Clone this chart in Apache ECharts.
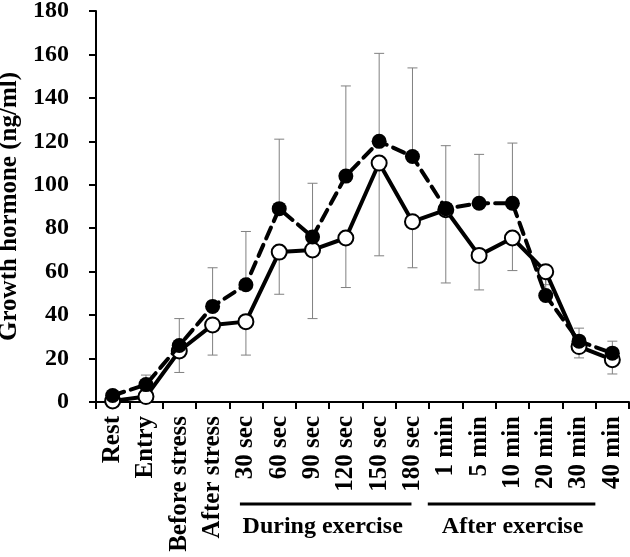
<!DOCTYPE html>
<html>
<head>
<meta charset="utf-8">
<script src="https://cdn.jsdelivr.net/npm/echarts@6/dist/echarts.min.js"></script>
<style>
  html, body { margin: 0; padding: 0; background: #fff; }
  #chart { width: 630px; height: 557px; }
</style>
</head>
<body>
<div id="chart"></div>
<script>
// ---- data ----
const categories = ['Rest', 'Entry', 'Before stress', 'After stress', '30 sec', '60 sec', '90 sec', '120 sec', '150 sec', '180 sec', '1 min', '5 min', '10 min', '20 min', '30 min', '40 min'];
const filledMean  = [3, 8, 26, 44, 54, 89, 76, 104, 120, 113, 89, 91.5, 91.5, 49, 28, 22.5];
const filledUpper = [4.5, 12.4, 38.4, 61.8, 78.5, 121, 100.7, 145.5, 160.5, 153.8, 118, 114, 119.2, 57, 34, 28];
const openMean    = [0.5, 2.5, 23.5, 35.5, 37, 69, 70, 75.5, 110, 83, 88.5, 67.5, 75.5, 60, 25.5, 19.5];
const openLower   = [0, 1, 13.6, 21.6, 21.6, 49.6, 38.4, 52.7, 67.3, 61.8, 54.8, 51.6, 60.5, 54, 20.3, 12.9];
const yTicks = { min: 0, max: 180, interval: 20 };
const groupLabels = ['During exercise', 'After exercise'];
const groupSpans = [['30 sec', '180 sec'], ['1 min', '40 min']];

const FONT = '"Liberation Serif", "Times New Roman", serif';
const chart = echarts.init(document.getElementById('chart'), null, { renderer: 'canvas' });

function errRender(capAtHigh) {
  return function (params, api) {
    const x = api.value(0);
    const lo = api.coord([x, api.value(1)]);
    const hi = api.coord([x, api.value(2)]);
    const capY = capAtHigh ? hi[1] : lo[1];
    const half = 5;
    const style = { stroke: '#808080', lineWidth: 1 };
    return {
      type: 'group',
      children: [
        { type: 'line', shape: { x1: lo[0], y1: lo[1], x2: hi[0], y2: hi[1] }, style: style },
        { type: 'line', shape: { x1: lo[0] - half, y1: capY, x2: lo[0] + half, y2: capY }, style: style }
      ]
    };
  };
}

const option = {
  animation: false,
  backgroundColor: '#fff',
  grid: { left: 96, right: 1, top: 11, bottom: 155, containLabel: false, outerBoundsMode: 'none' },
  xAxis: {
    type: 'category',
    data: categories,
    boundaryGap: true,
    axisLine: { lineStyle: { color: '#000', width: 2 } },
    axisTick: { show: true, length: 7, lineStyle: { color: '#000', width: 2 }, alignWithLabel: false },
    axisLabel: {
      rotate: 90, interval: 0, margin: 14,
      color: '#000', fontFamily: FONT, fontWeight: 'bold', fontSize: 25
    }
  },
  yAxis: {
    type: 'value',
    min: yTicks.min, max: yTicks.max, interval: yTicks.interval,
    name: 'Growth hormone (ng/ml)',
    nameLocation: 'middle',
    nameGap: 69,
    nameTextStyle: { color: '#000', fontFamily: FONT, fontWeight: 'bold', fontSize: 25 },
    splitLine: { show: false },
    axisLine: { show: true, lineStyle: { color: '#000', width: 2 } },
    axisTick: { show: true, length: 7, lineStyle: { color: '#000', width: 2 } },
    axisLabel: { margin: 27, color: '#000', fontFamily: FONT, fontWeight: 'bold', fontSize: 24 }
  },
  series: [
    {
      type: 'custom', name: 'errFilled', z: 1,
      renderItem: errRender(true),
      data: categories.map((c, i) => [i, filledMean[i], filledUpper[i]])
    },
    {
      type: 'custom', name: 'errOpen', z: 1,
      renderItem: errRender(false),
      data: categories.map((c, i) => [i, openLower[i], openMean[i]])
    },
    {
      type: 'line', name: 'open', z: 3,
      data: openMean,
      symbol: 'circle', symbolSize: 15,
      lineStyle: { color: '#000', width: 4, type: 'solid' },
      itemStyle: { color: '#fff', borderColor: '#000', borderWidth: 2 }
    },
    {
      type: 'line', name: 'filled', z: 4,
      data: filledMean,
      symbol: 'circle', symbolSize: 15,
      lineStyle: { color: '#000', width: 4, type: [12, 7], cap: 'round' },
      itemStyle: { color: '#000', borderColor: '#000', borderWidth: 0 }
    }
  ]
};
chart.setOption(option);

// group annotations under the x axis, positioned from the category scale
const lineOffsets = [[-6, -1], [-18, -17]];
const textShift = [-3, 1];
const axisY = chart.convertToPixel({ yAxisIndex: 0 }, 0);
const graphics = [];
groupSpans.forEach((span, k) => {
  const x1 = chart.convertToPixel({ xAxisIndex: 0 }, span[0]) + lineOffsets[k][0];
  const x2 = chart.convertToPixel({ xAxisIndex: 0 }, span[1]) + lineOffsets[k][1];
  graphics.push({
    type: 'line', shape: { x1: x1, y1: axisY + 102, x2: x2, y2: axisY + 102 },
    style: { stroke: '#000', lineWidth: 3 }
  });
  graphics.push({
    type: 'text', x: (x1 + x2) / 2 + textShift[k], y: axisY + 125,
    style: {
      text: groupLabels[k], fill: '#000', font: 'bold 24px ' + FONT,
      align: 'center', verticalAlign: 'middle'
    }
  });
});
chart.setOption({ graphic: graphics });
</script>
</body>
</html>
